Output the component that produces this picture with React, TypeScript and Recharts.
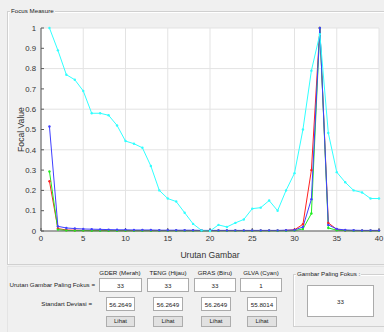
import React from 'react';
import { LineChart, Line, XAxis, YAxis, CartesianGrid } from 'recharts';

// urutan gambar 1..40
const frames = Array.from({ length: 40 }, (_, i) => i + 1);

const gderValues = [
  0.245, 0.012, 0.005, 0.004, 0.003, 0.003, 0.003, 0.002, 0.002, 0.002,
  0.002, 0.002, 0.002, 0.002, 0.002, 0.002, 0.002, 0.002, 0.002, 0.002,
  0.002, 0.002, 0.002, 0.002, 0.002, 0.002, 0.002, 0.002, 0.003, 0.006,
  0.033, 0.3, 1.0, 0.04, 0.008, 0.003, 0.002, 0.002, 0.002, 0.002,
];
const tengValues = [
  0.293, 0.007, 0.003, 0.002, 0.002, 0.001, 0.001, 0.001, 0.001, 0.001,
  0.001, 0.001, 0.001, 0.001, 0.001, 0.001, 0.001, 0.001, 0.001, 0.001,
  0.001, 0.001, 0.001, 0.001, 0.001, 0.001, 0.001, 0.001, 0.001, 0.002,
  0.01, 0.086, 1.0, 0.015, 0.004, 0.002, 0.001, 0.001, 0.001, 0.001,
];
const grasValues = [
  0.515, 0.023, 0.015, 0.012, 0.01, 0.009, 0.008, 0.007, 0.006, 0.006,
  0.005, 0.005, 0.005, 0.004, 0.004, 0.004, 0.004, 0.004, 0.003, 0.003,
  0.003, 0.003, 0.003, 0.003, 0.003, 0.003, 0.003, 0.003, 0.004, 0.005,
  0.02, 0.157, 1.0, 0.03, 0.01, 0.005, 0.004, 0.003, 0.003, 0.003,
];
const glvaValues = [
  1.0, 0.89, 0.77, 0.745, 0.69, 0.58, 0.58, 0.57, 0.52, 0.443,
  0.43, 0.41, 0.32, 0.2, 0.16, 0.145, 0.09, 0.035, 0.003, 0.0,
  0.03, 0.02, 0.04, 0.057, 0.11, 0.115, 0.15, 0.1, 0.2, 0.285,
  0.5, 0.79, 0.97, 0.483, 0.29, 0.24, 0.2, 0.19, 0.16, 0.16,
];

const xTicks = [0, 5, 10, 15, 20, 25, 30, 35, 40];
const yTicks = [0, 0.1, 0.2, 0.3, 0.4, 0.5, 0.6, 0.7, 0.8, 0.9, 1];

const methods = ['GDER (Merah)', 'TENG (Hijau)', 'GRAS (Biru)', 'GLVA (Cyan)'];
const bestFrame = ['33', '33', '33', '1'];
const stdDev = ['56.2649', '56.2649', '56.2649', '55.8014'];
const overallBest = '33';

const series = [
  { key: 'gder', color: '#ff2020' },
  { key: 'teng', color: '#20ee20' },
  { key: 'gras', color: '#4040ff' },
  { key: 'glva', color: '#30ffff' },
];

const data = frames.map((f, i) => ({
  frame: f,
  gder: gderValues[i],
  teng: tengValues[i],
  gras: grasValues[i],
  glva: glvaValues[i],
}));

const font = '"Liberation Sans", Arial, sans-serif';
const bg = '#f0f0f0';
const axisColor = '#5a5a5a';

// kolom kontrol di bawah grafik
const headCenters = [120, 168, 215, 261];
const box1 = [[99, 43], [147, 42], [194, 42], [240, 42]];
const box2 = [[106, 29], [153, 30], [201, 30], [247, 30]];

const small: React.CSSProperties = { position: 'absolute', fontSize: 6.2, color: '#222', fontFamily: font, whiteSpace: 'nowrap', lineHeight: 1 };

const Edit = ({ x, y, w, h, text }: { x: number; y: number; w: number; h: number; text: string }) => (
  <div style={{ position: 'absolute', left: x, top: y, width: w, height: h, boxSizing: 'border-box', background: '#fff', border: '1px solid #ababab', display: 'flex', alignItems: 'center', justifyContent: 'center', fontSize: 6.2, fontFamily: font, color: '#222' }}>
    {text}
  </div>
);

const Btn = ({ x, y, w, h }: { x: number; y: number; w: number; h: number }) => (
  <div style={{ position: 'absolute', left: x, top: y, width: w, height: h, boxSizing: 'border-box', background: '#e1e1e1', border: '1px solid #adadad', display: 'flex', alignItems: 'center', justifyContent: 'center', fontSize: 6, fontFamily: font, color: '#222' }}>
    Lihat
  </div>
);

export default function App() {
  return (
    <div style={{ position: 'absolute', left: 0, top: 0, width: 384, height: 332, background: bg, overflow: 'hidden', fontFamily: font }}>
      {/* panel Focus Measure */}
      <div style={{ position: 'absolute', left: 7, top: 11, width: 400, height: 252, border: '1px solid #d0d0d0', boxShadow: 'inset 1px 1px 0 #fff' }} />
      <div style={{ ...small, left: 10, top: 8, background: bg, padding: '0 1px', fontSize: 6.2 }}>Focus Measure</div>

      <div style={{ position: 'absolute', left: 0, top: 0 }}>
        <LineChart width={384} height={332} data={data} margin={{ top: 28, right: 5, bottom: 81, left: 0 }}>
          <CartesianGrid stroke="#e3e3e3" fill="#fff" />
          <XAxis
            dataKey="frame"
            type="number"
            domain={[0, 40]}
            ticks={xTicks}
            height={20}
            stroke={axisColor}
            tickSize={-3}
            tickMargin={7}
            tick={{ fontSize: 7.8, fill: '#333', fontFamily: font }}
            label={{ value: 'Urutan Gambar', position: 'insideBottom', offset: -7, fontSize: 8.6, fill: '#333', fontFamily: font }}
          />
          <XAxis xAxisId="top" orientation="top" type="number" domain={[0, 40]} ticks={xTicks} height={0} mirror stroke={axisColor} tick={false} tickSize={3} />
          <YAxis
            type="number"
            domain={[0, 1]}
            ticks={yTicks}
            width={41}
            stroke={axisColor}
            tickSize={-3}
            tickMargin={8}
            tickFormatter={(v: number) => String(Math.round(v * 10) / 10)}
            tick={{ fontSize: 7.8, fill: '#333', fontFamily: font }}
            label={{ value: 'Focal Value', angle: -90, position: 'center', fontSize: 8.6, fill: '#333', fontFamily: font }}
          />
          <YAxis yAxisId="right" orientation="right" type="number" domain={[0, 1]} ticks={yTicks} width={0} mirror stroke={axisColor} tick={false} tickSize={3} />
          {series.map((s) => (
            <Line
              key={s.key}
              dataKey={s.key}
              type="linear"
              stroke={s.color}
              strokeWidth={1}
              dot={{ r: 1.2, fill: s.color, stroke: s.color, strokeWidth: 0 }}
              activeDot={false}
              isAnimationActive={false}
            />
          ))}
        </LineChart>
      </div>

      {/* kontrol bawah */}
      <div style={{ position: 'absolute', left: 7, top: 266, width: 400, height: 80, borderTop: '1px solid #e4e4e4', borderLeft: '1px solid #e4e4e4' }} />
      {methods.map((m, i) => (
        <div key={m} style={{ ...small, left: headCenters[i], top: 270, transform: 'translateX(-50%)' }}>{m}</div>
      ))}
      <div style={{ ...small, right: 384 - 95, top: 281.5 }}>Urutan Gambar Paling Fokus =</div>
      {box1.map(([x, w], i) => (
        <Edit key={'b1' + i} x={x} y={278} w={w} h={14} text={bestFrame[i]} />
      ))}
      <div style={{ ...small, right: 384 - 92, top: 301 }}>Standart Deviasi =</div>
      {box2.map(([x, w], i) => (
        <Edit key={'b2' + i} x={x} y={297} w={w} h={14} text={stdDev[i]} />
      ))}
      {box2.map(([x, w], i) => (
        <Btn key={'bt' + i} x={x} y={315.5} w={w} h={11} />
      ))}

      {/* panel Gambar Paling Fokus */}
      <div style={{ position: 'absolute', left: 293, top: 274, width: 120, height: 53, border: '1px solid #d0d0d0', boxShadow: 'inset 1px 1px 0 #fff', boxSizing: 'border-box' }} />
      <div style={{ ...small, left: 296, top: 271, background: bg, padding: '0 1px' }}>Gambar Paling Fokus :</div>
      <Edit x={307} y={285} w={67} h={32} text={overallBest} />
    </div>
  );
}
